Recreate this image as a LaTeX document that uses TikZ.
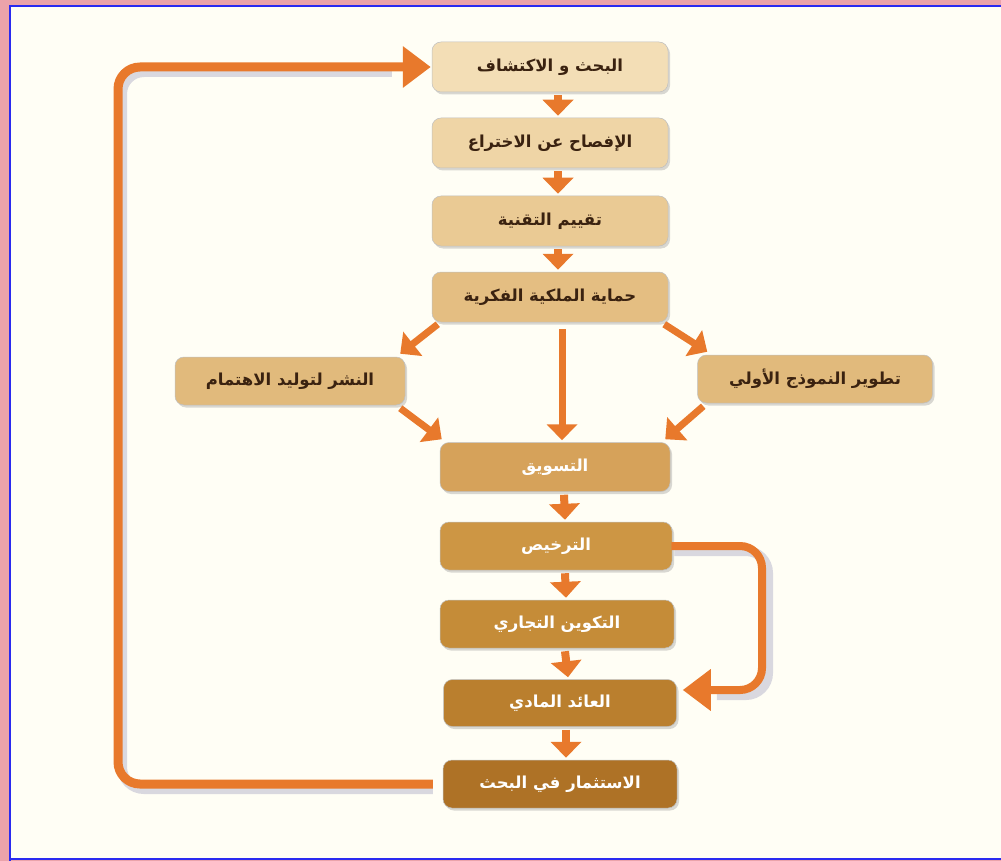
\documentclass[tikz,border=0pt]{standalone}
\usepackage{fontspec}
\newfontfamily\arabicfont[Script=Arabic]{DejaVu Sans}
\TeXXeTstate=1
\usetikzlibrary{arrows.meta,shadows}
\definecolor{framepink}{HTML}{EBA3AA}
\definecolor{frameblue}{HTML}{2A2AF0}
\definecolor{paper}{HTML}{FFFEF5}
\definecolor{arrowc}{HTML}{E8792C}
\definecolor{txtdark}{HTML}{3A2210}
\definecolor{cA}{HTML}{F3DEB6}
\definecolor{cB}{HTML}{EFD5A6}
\definecolor{cC}{HTML}{EACA94}
\definecolor{cD}{HTML}{E4BE82}
\definecolor{cE}{HTML}{E1BA7C}
\definecolor{cF}{HTML}{D6A25A}
\definecolor{cG}{HTML}{CD9644}
\definecolor{cH}{HTML}{C58C38}
\definecolor{cI}{HTML}{BA7F2E}
\definecolor{cJ}{HTML}{AE7226}
\begin{document}
\begin{tikzpicture}[x=1pt,y=-1pt,
  box/.style={rounded corners=9pt, minimum width=236pt, minimum height=50pt,
    inner sep=0pt, draw=black!25, line width=0.5pt,
    drop shadow={opacity=0.3,shadow xshift=2pt,shadow yshift=-2.5pt},
    font=\arabicfont\bfseries\fontsize{16.5}{18}\selectfont, text=txtdark},
  lightbox/.style={box, text=white},
  arr/.style={draw=arrowc, line width=8pt, -{Triangle[width=30pt,length=16pt]}},
  loop/.style={draw=arrowc, line width=9pt, rounded corners=22pt, -{Triangle[width=40pt,length=28pt]}},
  loopshadow/.style={draw=black!60!blue, opacity=0.15, line width=10pt, rounded corners=22pt}
]
\useasboundingbox (0,0) rectangle (1001,861);
% frame and background
\fill[framepink] (0,0) rectangle (1001,861);
\fill[paper] (10,6) rectangle (1001,859);
\draw[frameblue, line width=2pt] (10,861) -- (10,6) -- (1001,6);
\draw[frameblue, line width=2pt] (10,859) -- (1001,859);

% boxes
\node[box, fill=cA] (b1) at (550,67) {\beginR البحث و الاكتشاف\endR};
\node[box, fill=cB] (b2) at (550,143) {\beginR الإفصاح عن الاختراع\endR};
\node[box, fill=cC] (b3) at (550,221) {\beginR تقييم التقنية\endR};
\node[box, fill=cD] (b4) at (550,297) {\beginR حماية الملكية الفكرية\endR};
\node[box, fill=cE, minimum width=230pt, minimum height=48pt] (b5) at (290,381) {\beginR النشر لتوليد الاهتمام\endR};
\node[box, fill=cE, minimum width=235pt, minimum height=48pt] (b6) at (815,379) {\beginR تطوير النموذج الأولي\endR};
\node[lightbox, fill=cF, minimum width=230pt, minimum height=49pt] (b7) at (555,467) {\beginR التسويق\endR};
\node[lightbox, fill=cG, minimum width=232pt, minimum height=48pt] (b8) at (556,546) {\beginR الترخيص\endR};
\node[lightbox, fill=cH, minimum width=234pt, minimum height=48pt] (b9) at (557,624) {\beginR التكوين التجاري\endR};
\node[lightbox, fill=cI, minimum width=233pt, minimum height=47pt] (b10) at (560,703) {\beginR العائد المادي\endR};
\node[lightbox, fill=cJ, minimum width=234pt, minimum height=48pt] (b11) at (560,784) {\beginR الاستثمار في البحث\endR};

% short vertical arrows
\draw[arr] ([xshift=8pt,yshift=-3pt]b1.south) -- ([xshift=8pt,yshift=2pt]b2.north);
\draw[arr] ([xshift=8pt,yshift=-3pt]b2.south) -- ([xshift=8pt,yshift=2pt]b3.north);
\draw[arr] ([xshift=8pt,yshift=-3pt]b3.south) -- ([xshift=8pt,yshift=2pt]b4.north);
\draw[arr] ([xshift=9pt,yshift=-3pt]b7.south) -- ([xshift=9pt,yshift=2pt]b8.north);
\draw[arr] ([xshift=9pt,yshift=-3pt]b8.south) -- ([xshift=9pt,yshift=2pt]b9.north);
\draw[arr] ([xshift=8pt,yshift=-3pt]b9.south) -- ([xshift=8pt,yshift=2pt]b10.north);
\draw[arr] ([xshift=6pt,yshift=-3pt]b10.south) -- ([xshift=6pt,yshift=2pt]b11.north);

% branching arrows
\draw[arr, line width=7pt] ([xshift=6pt,yshift=-2pt]b4.south west) -- ([xshift=-5pt,yshift=3pt]b5.north east);
\draw[arr, line width=7pt] ([xshift=-4pt,yshift=-2pt]b4.south east) -- ([xshift=10pt,yshift=3pt]b6.north west);
\draw[arr, line width=7pt] ([xshift=12pt,yshift=-7pt]b4.south) -- ([xshift=7pt,yshift=2pt]b7.north);
\draw[arr, line width=7pt] ([xshift=-5pt,yshift=-3pt]b5.south east) -- ([xshift=2pt,yshift=3pt]b7.north west);
\draw[arr, line width=7pt] ([xshift=6pt,yshift=-3pt]b6.south west) -- ([xshift=-5pt,yshift=3pt]b7.north east);

% feedback loops (shadow then line)
\coordinate (lA) at (118,784);
\coordinate (lB) at (118,67);
\coordinate (rA) at (762,546);
\coordinate (rB) at (762,690);
\draw[loopshadow] ([xshift=-10pt,yshift=-5pt]b11.west) -- ([xshift=4pt,yshift=-5pt]lA) -- ([xshift=4pt,yshift=-5pt]lB) -- ([xshift=-40pt,yshift=-5pt]b1.west);
\draw[loop] ([xshift=-10pt]b11.west) -- (lA) -- (lB) -- ([xshift=-1pt]b1.west);
\draw[loopshadow] ([xshift=2pt,yshift=-5pt]b8.east) -- ([xshift=6pt,yshift=-5pt]rA) -- ([xshift=6pt,yshift=-5pt]rB) -- ([xshift=40pt,yshift=-5pt]rB-|b10.east);
\draw[loop, line width=8pt] ([xshift=-1pt]b8.east) -- (rA) -- (rB) -- ([xshift=6pt]rB-|b10.east);
\end{tikzpicture}
\end{document}
